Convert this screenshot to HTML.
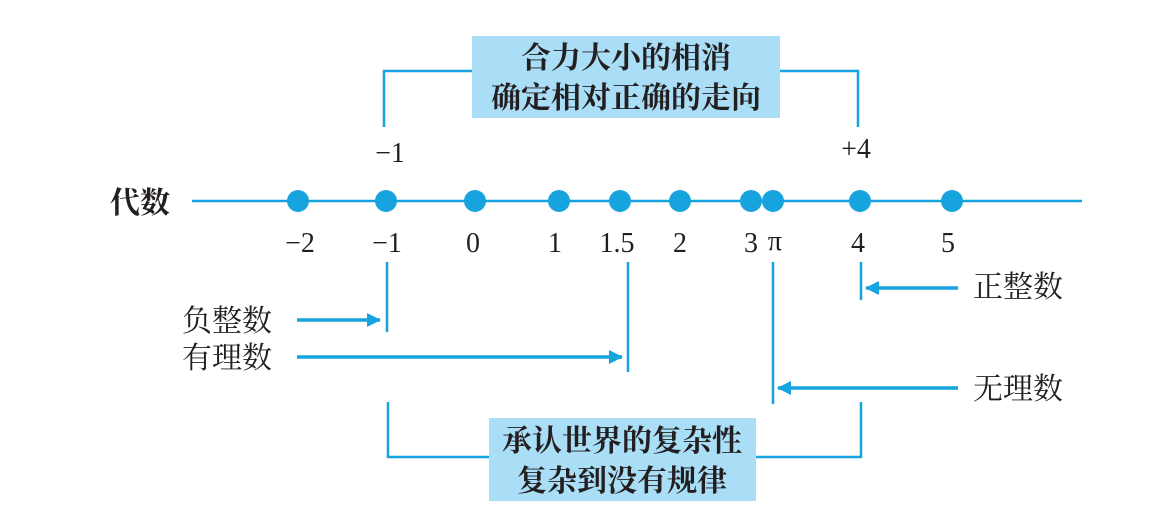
<!DOCTYPE html>
<html><head><meta charset="utf-8"><style>
body{margin:0;background:#fff}
svg text{font-family:"Liberation Serif","Noto Serif CJK SC",serif;fill:#231f20}
</style></head><body>
<svg width="1152" height="511" viewBox="0 0 1152 511" xmlns="http://www.w3.org/2000/svg">
<defs><marker id="a" markerWidth="14" markerHeight="14" refX="13" refY="7" orient="auto" markerUnits="userSpaceOnUse"><path d="M0,0 L14,7 L0,14 Z" fill="#17a3dd"/></marker></defs>
<g stroke="#17a3dd" stroke-width="2.5" fill="none">
<polyline points="384,127 384,71 480,71"/>
<polyline points="770,71 858,71 858,127"/>
<polyline points="388,402 388,457 500,457"/>
<polyline points="740,457 861,457 861,402"/>
<line x1="192" y1="201" x2="1082" y2="201"/>
<line x1="387" y1="262" x2="387" y2="332"/>
<line x1="628" y1="262" x2="628" y2="372"/>
<line x1="773" y1="262" x2="773" y2="404"/>
<line x1="861" y1="262" x2="861" y2="300"/>
</g>
<g stroke="#17a3dd" stroke-width="3.5" fill="none">
<line x1="297" y1="320" x2="380" y2="320" marker-end="url(#a)"/>
<line x1="297" y1="357" x2="622" y2="357" marker-end="url(#a)"/>
<line x1="958" y1="288" x2="866" y2="288" marker-end="url(#a)"/>
<line x1="958" y1="388" x2="778" y2="388" marker-end="url(#a)"/>
</g>
<rect x="472" y="36" width="308" height="82" fill="#a9def6"/>
<rect x="489" y="418" width="267" height="83" fill="#a9def6"/>
<g fill="#17a3dd">
<circle cx="298" cy="201" r="11"/><circle cx="386" cy="201" r="11"/><circle cx="475" cy="201" r="11"/><circle cx="559" cy="201" r="11"/><circle cx="620" cy="201" r="11"/><circle cx="680" cy="201" r="11"/><circle cx="751" cy="201" r="11"/><circle cx="773" cy="201" r="11"/><circle cx="860" cy="201" r="11"/><circle cx="952" cy="201" r="11"/>
</g>
<g font-size="30" font-weight="bold" text-anchor="middle">
<text x="626" y="68">合力大小的相消</text>
<text x="626" y="108">确定相对正确的走向</text>
<text x="622" y="451">承认世界的复杂性</text>
<text x="622" y="491">复杂到没有规律</text>
<text x="140" y="213">代数</text>
</g>
<g font-size="28" text-anchor="middle">
<text x="390" y="162">−1</text><text x="856" y="158">+4</text>
<text x="300" y="252">−2</text><text x="387" y="252">−1</text><text x="473" y="252">0</text><text x="555" y="252">1</text><text x="617" y="252">1.5</text><text x="680" y="252">2</text><text x="751" y="252">3</text><text x="775" y="250">π</text><text x="858" y="252">4</text><text x="948" y="252">5</text>
</g>
<g font-size="30">
<text x="182" y="331">负整数</text><text x="182" y="368">有理数</text>
<text x="973" y="297">正整数</text><text x="973" y="399">无理数</text>
</g>
</svg>
</body></html>
